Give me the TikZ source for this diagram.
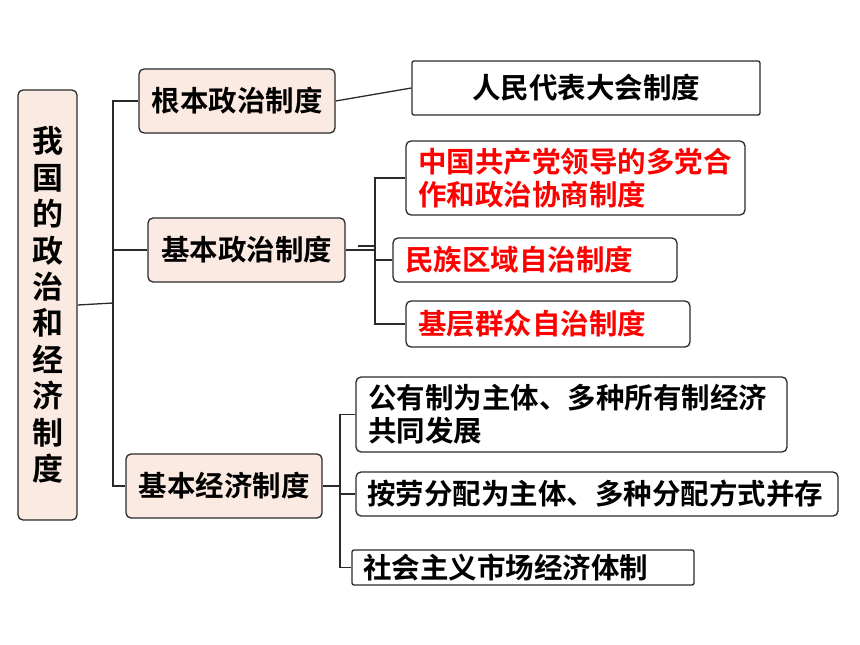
\documentclass[tikz,border=0pt]{standalone}
\usepackage{fontspec}
\newfontfamily\cjk{Noto Sans CJK SC}[BoldFont={Noto Sans CJK SC Bold}]
\usetikzlibrary{positioning}
\definecolor{boxpink}{HTML}{FBEAE2}
\definecolor{linegray}{HTML}{2A2A2A}

\begin{document}
\begin{tikzpicture}[x=1pt,y=-1pt,line width=1.3pt,draw=linegray]
    \tikzstyle{sys}=[draw=linegray,fill=boxpink,rounded corners=5pt,inner sep=0pt,font=\cjk\bfseries\fontsize{28.5}{32}\selectfont]
    \tikzstyle{item}=[draw=linegray,fill=white,rounded corners=5pt,inner sep=0pt,font=\cjk\bfseries\fontsize{28.5}{33}\selectfont,align=left]
    \tikzstyle{redtext}=[text=red]

    \useasboundingbox (0,0) rectangle (860,645);

    % left title
    \node[sys,minimum width=59pt,minimum height=430pt,font=\cjk\bfseries\fontsize{31}{36.4}\selectfont,align=center] (root) at (47.5,305)
        {我\\国\\的\\政\\治\\和\\经\\济\\制\\度};

    % first level
    \node[sys,minimum width=196pt,minimum height=64pt] (gbzz) at (237,101) {根本政治制度};
    \node[sys,minimum width=197pt,minimum height=64pt] (jbzz) at (246.5,250) {基本政治制度};
    \node[sys,minimum width=196pt,minimum height=64pt] (jbjj) at (224,486) {基本经济制度};

    % second level
    \node[item,rounded corners=2pt,minimum width=348pt,minimum height=54pt,align=center] (rd) at (586,88) {人民代表大会制度};
    \node[item,redtext,minimum width=339pt,minimum height=74pt,text width=315pt] (dp) at (575.5,178) {中国共产党领导的多党合\\作和政治协商制度};
    \node[item,redtext,minimum width=284pt,minimum height=44pt,text width=260pt] (mz) at (535,260) {民族区域自治制度};
    \node[item,redtext,minimum width=284pt,minimum height=46pt,text width=260pt] (jc) at (548,324) {基层群众自治制度};
    \node[item,minimum width=431pt,minimum height=75pt,text width=407pt] (gy) at (571.5,414.5) {公有制为主体、多种所有制经济\\共同发展};
    \node[item,minimum width=482pt,minimum height=44pt,text width=460pt] (al) at (597,494) {按劳分配为主体、多种分配方式并存};
    \node[item,rounded corners=2pt,minimum width=342pt,minimum height=35pt,text width=320pt] (sc) at (523,567.5) {社会主义市场经济体制};

    % connectors
    \coordinate (rj) at (113,303);
    \draw (root.east) -- (rj);
    \draw (113,280) -- (113,318);
    \draw (gbzz.west) -| (rj) |- (jbjj.west);
    \draw (rj) |- (jbzz.west);
    \draw (gbzz.east) -- (rd.west);

    \coordinate (zj) at (375,250);
    \draw (jbzz.east) -- (zj);
    \draw (358,246) -- (375,246);
    \draw (dp.west) -| (zj) |- (jc.west);
    \draw (zj) |- (mz.west);

    \coordinate (jj) at (340,486);
    \draw (jbjj.east) -- (jj);
    \draw (gy.west) -| (jj) |- (sc.west);
    \draw (jj) |- (al.west);
\end{tikzpicture}
\end{document}
